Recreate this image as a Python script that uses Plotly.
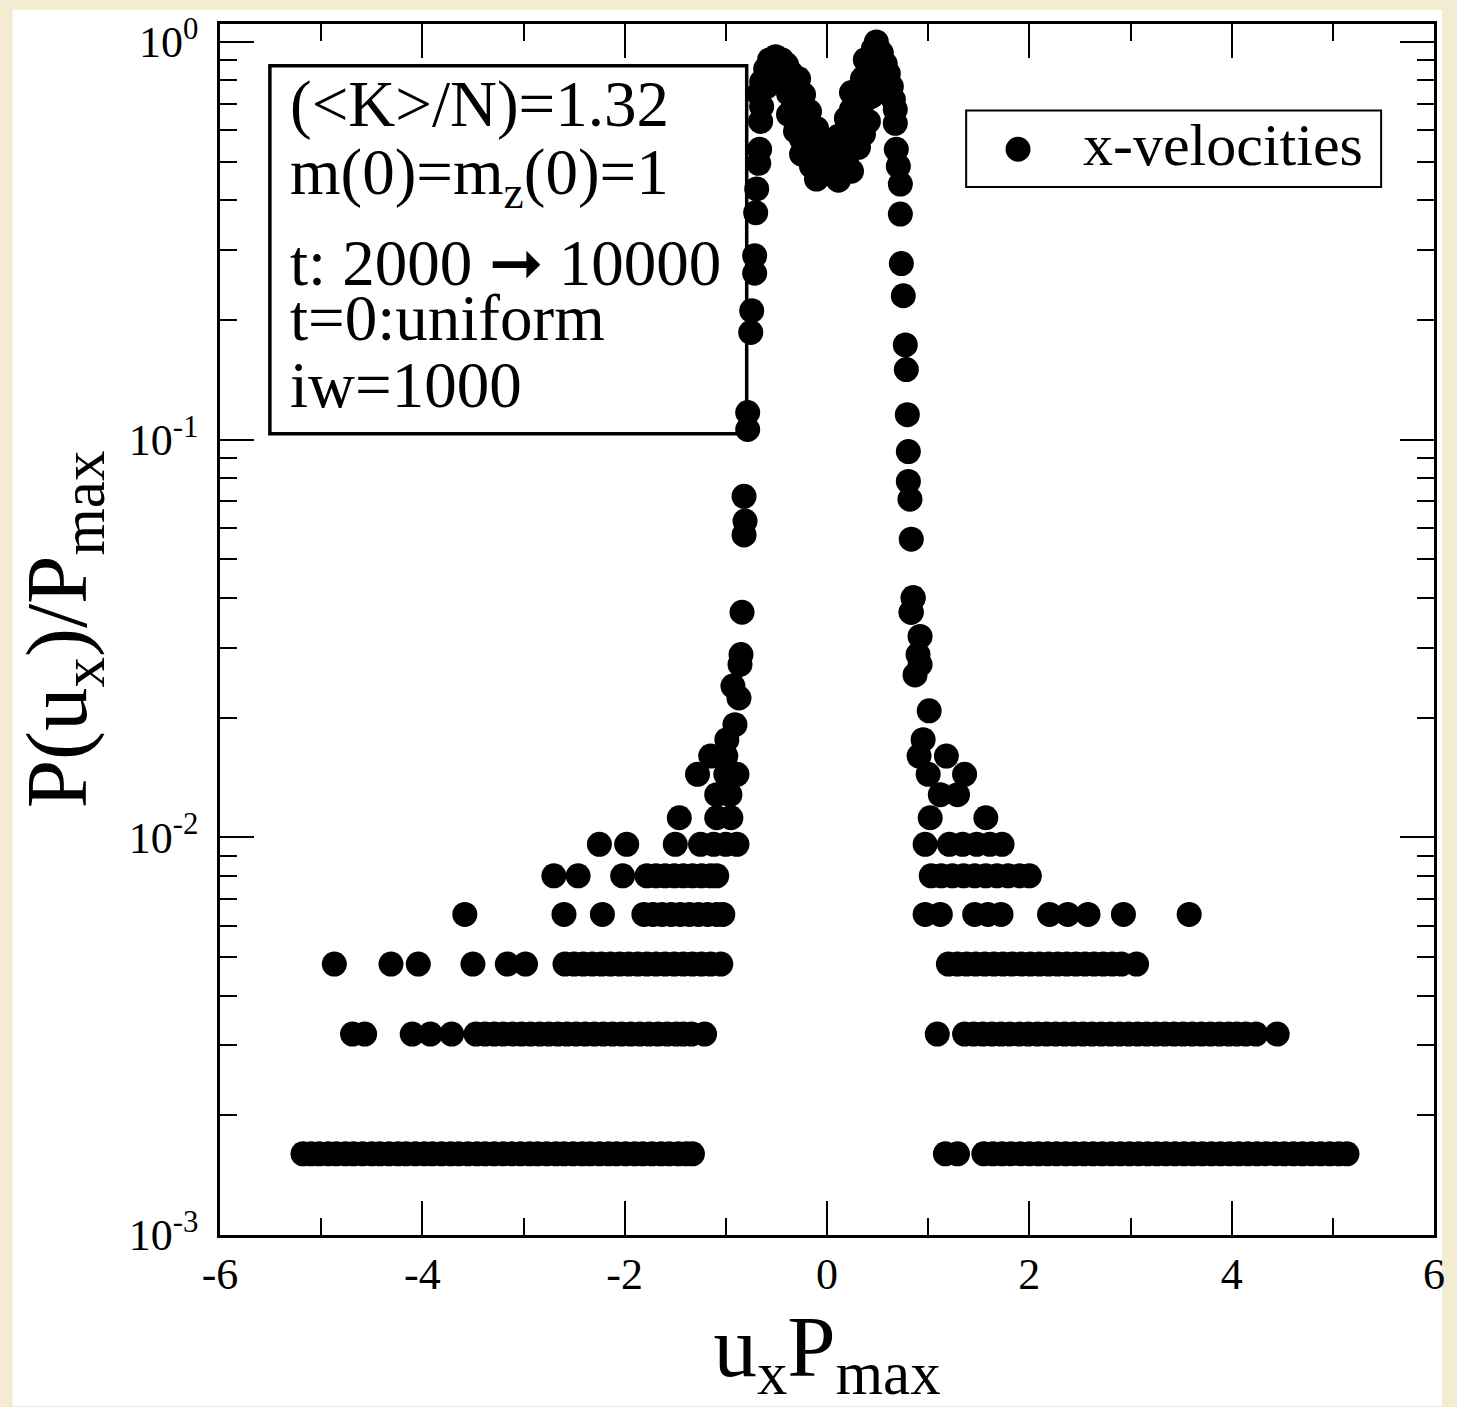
import plotly.graph_objects as go

# ---------------- data ----------------
N_NORM = 625.0  # P/Pmax is quantised in steps of 1/625

# tails: x positions (u_x*P_max) of points with histogram count n  (P/Pmax = n/625)
u_n1 = [-5.18, -5.10, -5.02, -4.93, -4.85, -4.76, -4.68, -4.59, -4.50, -4.42, -4.33, -4.24,
        -4.16, -4.07, -3.98, -3.90, -3.81, -3.72, -3.64, -3.55, -3.46, -3.38, -3.29, -3.20,
        -3.12, -3.03, -2.94, -2.86, -2.77, -2.68, -2.60, -2.51, -2.42, -2.34, -2.25, -2.16,
        -2.08, -1.99, -1.90, -1.82, -1.73, -1.64, -1.56, -1.47, -1.39, -1.33,
        1.17, 1.29, 1.55, 1.64, 1.73, 1.82, 1.91, 2.00, 2.09, 2.18, 2.27, 2.36, 2.45, 2.54,
        2.63, 2.72, 2.81, 2.90, 2.99, 3.08, 3.17, 3.26, 3.35, 3.44, 3.53, 3.62, 3.71, 3.80,
        3.89, 3.98, 4.07, 4.16, 4.25, 4.34, 4.43, 4.52, 4.61, 4.70, 4.79, 4.88, 4.97, 5.06, 5.14]
u_n2 = [-4.69, -4.57, -4.10, -3.92, -3.71, -3.47, -3.38, -3.29, -3.20, -3.11, -3.02, -2.93,
        -2.84, -2.75, -2.66, -2.57, -2.48, -2.39, -2.30, -2.21, -2.12, -2.03, -1.94, -1.85,
        -1.76, -1.67, -1.58, -1.49, -1.42, -1.34, -1.21,
        1.09, 1.36, 1.45, 1.54, 1.63, 1.72, 1.81, 1.90, 1.99, 2.08, 2.17, 2.26, 2.35, 2.44,
        2.53, 2.62, 2.71, 2.80, 2.89, 2.98, 3.07, 3.16, 3.25, 3.34, 3.43, 3.52, 3.61, 3.70,
        3.79, 3.88, 3.97, 4.05, 4.14, 4.24, 4.45]
u_n3 = [-4.87, -4.31, -4.04, -3.50, -3.16, -2.98, -2.59, -2.50, -2.41, -2.32, -2.23, -2.14,
        -2.05, -1.96, -1.87, -1.78, -1.69, -1.60, -1.51, -1.42, -1.33, -1.24, -1.15, -1.05,
        1.20, 1.29, 1.38, 1.47, 1.56, 1.65, 1.74, 1.83, 1.92, 2.01, 2.10, 2.19, 2.28, 2.37,
        2.46, 2.55, 2.64, 2.73, 2.82, 2.91, 3.06]
u_n4 = [-3.58, -2.60, -2.22, -1.81, -1.72, -1.63, -1.54, -1.45, -1.36, -1.27, -1.18, -1.09,
        -1.03, 0.97, 1.12, 1.46, 1.59, 1.72, 2.20, 2.38, 2.58, 2.93, 3.58]
u_n5 = [-2.70, -2.46, -2.02, -1.78, -1.69, -1.60, -1.51, -1.42, -1.33, -1.24, -1.15, -1.09,
        1.03, 1.13, 1.24, 1.35, 1.46, 1.57, 1.68, 1.79, 1.90, 2.00]
u_n6 = [-2.25, -1.98, -1.50, -1.25, -1.12, -1.00, -0.89,
        0.97, 1.21, 1.34, 1.48, 1.61, 1.73]

# sparse points on the flanks: position and count
mid_u = [-1.46, -1.09, -0.95, 1.02, 1.57,
         -1.09, -0.96, 1.12, 1.29,
         -1.28, -1.00, -0.89, 1.00, 1.36,
         -1.15, -1.00, 0.91, 1.18,
         -0.99, 0.95, -0.91, 1.01, -0.87, -0.93, 0.87,
         -0.86, 0.92, -0.85, 0.90, 0.92, -0.84, 0.83, 0.85]
mid_n = [7, 7, 7, 7, 7,
         8, 8, 8, 8,
         9, 9, 9, 9, 9,
         10, 10, 10, 10,
         11, 11, 12, 13, 14, 15, 16,
         17, 17, 18, 18, 20, 23, 23, 25]

# core of the distribution (two humps, several time windows overlaid)
core_u = [-0.82, -0.81, -0.82, -0.784, -0.784, -0.754, -0.744, -0.715, -0.715, -0.705,
          -0.695, -0.675, -0.666, -0.656, -0.646, -0.675, -0.646,
          -0.606, -0.567, -0.508, -0.449, -0.399, -0.350, -0.311, -0.251, -0.182, -0.133,
          -0.597, -0.557, -0.478, -0.419, -0.380, -0.330, -0.281, -0.251, -0.212, -0.153, -0.104,
          -0.281, -0.232, -0.173, -0.104, -0.025, -0.380, -0.311, -0.251,
          -0.064, -0.025, -0.005, 0.035, 0.074, 0.113, 0.153, 0.143, 0.192, 0.182, 0.212,
          0.232, 0.242, 0.271, 0.291, 0.311, 0.340, 0.350, 0.370, 0.399, 0.429, 0.429,
          0.113, 0.192, 0.242, 0.379, 0.311, 0.360, 0.409, 0.440, 0.242,
          0.458, 0.468, 0.488, 0.508, 0.537, 0.576, 0.606, 0.636, 0.656, 0.675, 0.675,
          0.685, 0.705, 0.725,
          0.725, 0.735, 0.754, 0.774, 0.784, 0.794, 0.804, 0.804, 0.82, 0.833, 0.853, 0.833]
core_p = [0.0576, 0.0624, 0.072, 0.106, 0.117, 0.186, 0.211, 0.262, 0.290, 0.372,
          0.427, 0.495, 0.537, 0.631, 0.688, 0.741, 0.794,
          0.856, 0.902, 0.917, 0.902, 0.876, 0.832, 0.759, 0.676, 0.606, 0.562,
          0.772, 0.818, 0.841, 0.808, 0.741, 0.688, 0.631, 0.569, 0.528, 0.487, 0.452,
          0.808, 0.737, 0.668, 0.606, 0.553, 0.657, 0.596, 0.522,
          0.516, 0.473, 0.528, 0.487, 0.460, 0.449, 0.473, 0.507, 0.501, 0.589, 0.546,
          0.562, 0.676, 0.613, 0.620, 0.741, 0.688, 0.808, 0.729, 0.891, 0.794, 0.917,
          0.579, 0.642, 0.746, 0.902, 0.543, 0.586, 0.631, 0.729, 0.473,
          0.960, 0.866, 1.000, 0.891, 0.939, 0.881, 0.832, 0.772, 0.716, 0.676, 0.624,
          0.537, 0.487, 0.439,
          0.369, 0.277, 0.230, 0.173, 0.150, 0.1155, 0.0933, 0.0785, 0.0708, 0.0562, 0.0400, 0.0368]

# ---------------- assemble ----------------
xs, ys = [], []
for n, lst in [(1, u_n1), (2, u_n2), (3, u_n3), (4, u_n4), (5, u_n5), (6, u_n6)]:
    xs += lst
    ys += [n / N_NORM] * len(lst)
xs += mid_u
ys += [n / N_NORM for n in mid_n]
xs += core_u
ys += core_p

FONT = "Liberation Serif, Times New Roman, serif"

fig = go.Figure()
fig.add_trace(go.Scatter(
    x=xs, y=ys, mode="markers", name="x-velocities", showlegend=False,
    marker=dict(symbol="circle", size=25, color="black", line=dict(width=0)),
))

# pixel helpers for layout placement (plot area 220..1437 x 17..1235)
L, R, T, B = 220, 1437, 17, 1235
W, H = R - L, B - T
def px(X):
    return (X - L) / W
def py(Y):
    return (B - Y) / H

shapes = [
    # white sheet on the cream page
    dict(type="rect", xref="paper", yref="paper", x0=px(12), x1=px(1445), y0=py(1407), y1=py(3),
         fillcolor="white", line=dict(width=0), layer="below"),
    # annotation box
    dict(type="rect", xref="paper", yref="paper", x0=px(270), x1=px(748), y0=py(429), y1=py(59),
         line=dict(color="black", width=3.5), fillcolor="rgba(0,0,0,0)", layer="below"),
    # legend box
    dict(type="rect", xref="paper", yref="paper", x0=px(968), x1=px(1384), y0=py(181), y1=py(104),
         line=dict(color="black", width=2), fillcolor="white", layer="below"),
    # legend symbol
    dict(type="circle", xref="paper", yref="paper", x0=px(1007.5), x1=px(1032.5),
         y0=py(155.5), y1=py(130.5), fillcolor="black", line=dict(width=0)),
]

box_font = dict(family=FONT, size=65, color="black")
lines = [
    ("(&lt;K&gt;/N)=1.32", 97),
    ("m(0)=m<sub>z</sub>(0)=1", 171),
    ("t: 2000 \u279e 10000", 257),
    ("t=0:uniform", 313),
    ("iw=1000", 380),
]
annotations = []
for txt, Y in lines:
    annotations.append(dict(text=txt, xref="paper", yref="paper", x=px(288), y=py(Y),
                            xanchor="left", yanchor="middle", showarrow=False, font=box_font))
annotations.append(dict(text="x-velocities", xref="paper", yref="paper", x=px(1083), y=py(139),
                        xanchor="left", yanchor="middle", showarrow=False,
                        font=dict(family=FONT, size=60, color="black")))

tick_font = dict(family=FONT, size=44, color="black")
title_font = dict(family=FONT, size=87, color="black")

fig.update_layout(
    width=1457, height=1407,
    margin=dict(l=L, r=1457 - R, t=T, b=1407 - B, pad=0),
    paper_bgcolor="#F3ECD0",
    plot_bgcolor="white",
    shapes=shapes,
    annotations=annotations,
    xaxis=dict(
        range=[-6, 6], showgrid=False, zeroline=False,
        showline=True, linecolor="black", linewidth=2.5, mirror="allticks",
        ticks="inside", ticklen=34, tickwidth=2, tickcolor="black",
        tickvals=[-6, -4, -2, 0, 2, 4, 6], ticktext=["-6", "-4", "-2", "0", "2", "4", "6"],
        tickfont=tick_font, ticklabelstandoff=-2,
        minor=dict(ticks="inside", ticklen=17, tickwidth=2, tickcolor="black",
                   tickvals=[-5, -3, -1, 1, 3, 5], showgrid=False),
        title=dict(text="u<sub>x</sub>P<sub>max</sub>", font=title_font, standoff=14),
    ),
    yaxis=dict(
        type="log", range=[-3, 0.045], showgrid=False, zeroline=False,
        showline=True, linecolor="black", linewidth=2.5, mirror="allticks",
        ticks="inside", ticklen=34, tickwidth=2, tickcolor="black",
        tickvals=[0.001, 0.01, 0.1, 1],
        ticktext=["10<sup>-3</sup>", "10<sup>-2</sup>", "10<sup>-1</sup>", "10<sup>0</sup>"],
        tickfont=tick_font, ticklabelstandoff=10,
        minor=dict(ticks="inside", ticklen=17, tickwidth=2, tickcolor="black",
                   tickvals=[m * 10.0 ** e for e in (-3, -2, -1) for m in range(2, 10)],
                   showgrid=False),
        title=dict(text="P(u<sub>x</sub>)/P<sub>max</sub>", font=title_font, standoff=14),
    ),
)

fig.write_html("out.html")
